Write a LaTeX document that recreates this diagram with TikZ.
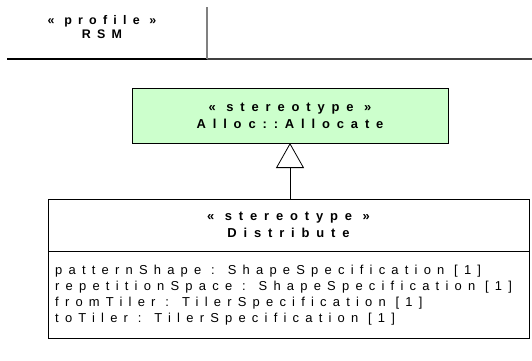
\documentclass[tikz,border=0pt]{standalone}
\usepackage{fontspec}
\setmainfont{Liberation Sans}
\newfontfamily\umlfont[LetterSpace=53]{Liberation Sans}
\newfontfamily\profilefont[LetterSpace=50]{Liberation Sans}
\newfontfamily\attrfont[LetterSpace=48]{Liberation Sans}
\usetikzlibrary{arrows.meta}
\definecolor{stgreen}{HTML}{CCFFCC}
\definecolor{framegray}{HTML}{404040}
\tikzset{
  titletext/.style={font=\umlfont\bfseries\fontsize{13}{17}\selectfont, align=center, inner sep=0pt},
  profiletext/.style={font=\profilefont\bfseries\fontsize{12.5}{14}\selectfont, align=center, inner sep=0pt},
  attrtext/.style={font=\attrfont\fontsize{13}{16}\selectfont, align=left, inner sep=0pt, anchor=north west},
  classbox/.style={draw=black, line width=0.8bp, inner sep=0pt, outer sep=0pt},
  genline/.style={draw=black, line width=0.8bp, -{Triangle[open, length=25bp, width=28bp, fill=white]}}
}
\begin{document}
\begin{tikzpicture}[x=1bp, y=-1bp]
\useasboundingbox (0,0) rectangle (532,360);
% profile frame
\coordinate (hl) at (7,59);
\coordinate (hm) at (207,59);
\coordinate (hr) at (532,59);
\coordinate (vt) at (207,7);
\draw[line width=2bp, black] (hl) -- (hm);
\draw[line width=1.2bp, framegray] (hm) -- (hr);
\draw[line width=1.4bp, gray] (vt) -- (hm);
\node[profiletext] (profile) at (102,27) {« profile »\\RSM};
% Alloc::Allocate
\node[classbox, fill=stgreen, minimum width=316bp, minimum height=55bp] (alloc) at (290,115.5) {};
\node[titletext] (alloctext) at (alloc.center) {« stereotype »\\Alloc::Allocate};
% Distribute
\node[classbox, fill=white, minimum width=481bp, minimum height=52bp] (dist) at (288.5,225) {};
\node[titletext] (disttext) at (dist.center) {« stereotype »\\Distribute};
\node[classbox, fill=white, minimum width=481bp, minimum height=87bp, anchor=north] (attrs) at (dist.south) {};
\node[attrtext] (attrlist) at ([xshift=7bp, yshift=-14bp]attrs.north west) {patternShape : ShapeSpecification [1]\\repetitionSpace : ShapeSpecification [1]\\fromTiler : TilerSpecification [1]\\toTiler : TilerSpecification [1]};
% generalization
\draw[genline] (dist.north -| alloc.south) -- (alloc.south);
\end{tikzpicture}
\end{document}
